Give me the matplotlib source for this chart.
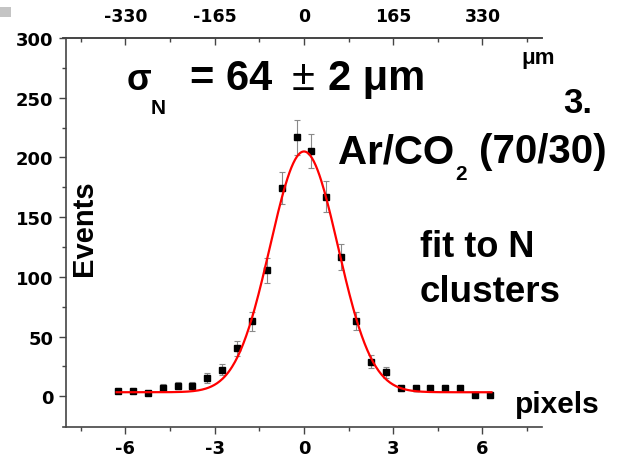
import matplotlib
matplotlib.use('Agg')
import matplotlib.pyplot as plt
import numpy as np
from matplotlib.patches import Rectangle

# measured points (pixel position, events)
pix = [-6.25, -5.75, -5.25, -4.75, -4.25, -3.75, -3.25, -2.75, -2.25, -1.75, -1.25, -0.75, -0.25,
       0.25, 0.75, 1.25, 1.75, 2.25, 2.75, 3.25, 3.75, 4.25, 4.75, 5.25, 5.75, 6.25]
events = [4.7, 4.7, 2.5, 7.2, 8.9, 8.9, 15.4, 22.4, 40.3, 62.7, 105.5, 174.2, 217.0,
          205.5, 167.2, 116.8, 63.0, 29.1, 20.2, 6.7, 6.7, 6.7, 6.7, 6.7, 1.3, 1.3]
errors = [2.2, 2.2, 1.6, 2.7, 3.0, 3.0, 3.9, 4.7, 6.3, 7.9, 10.3, 13.2, 14.7,
          14.3, 12.9, 10.8, 7.9, 5.4, 4.5, 2.6, 2.6, 2.6, 2.6, 2.6, 1.1, 1.1]

# gaussian fit result
fit_amp = 201.6
fit_mean = 0.0
fit_sigma = 1.14
fit_offset = 3.4
fit_range = [-6.3, 6.3]

um_per_pixel = 55
xticks = [-6, -3, 0, 3, 6]
yticks = [0, 50, 100, 150, 200, 250, 300]
top_ticks = [-330, -165, 0, 165, 330]

W, H = 619, 460
fig = plt.figure(figsize=(W/100, H/100), dpi=100)
ax = fig.add_axes([63/W, 1-428/H, (542-63)/W, (428-39)/H])

ax.errorbar(pix, events, yerr=errors, fmt='none', ecolor='#8a8a8a', elinewidth=0.8,
            capsize=2.5, capthick=0.8, zorder=2)
ax.plot(pix, events, 's', color='black', markersize=5, zorder=3)

xf = np.linspace(fit_range[0], fit_range[1], 400)
yf = fit_offset + fit_amp*np.exp(-(xf-fit_mean)**2/(2*fit_sigma**2))
ax.plot(xf, yf, color='red', lw=1.6, zorder=4)

ax.set_xlim(-8.1, 8.0)
ax.set_ylim(-25.7, 300)

axcol = '#444444'
for s in ['left', 'bottom', 'top']:
    ax.spines[s].set_color(axcol)
    ax.spines[s].set_linewidth(1.2)
ax.spines['right'].set_visible(False)
ax.spines['left'].set_position(('data', -8.0))

ax.set_xticks(xticks)
ax.set_xticks([-7.5, -4.5, -1.5, 1.5, 4.5, 7.5], minor=True)
ax.set_yticks(yticks)
ax.set_yticks([25, 75, 125, 175, 225, 275], minor=True)
ax.tick_params(axis='x', which='major', direction='out', length=5, width=1, color=axcol,
               pad=4, labelsize=13)
ax.tick_params(axis='x', which='minor', direction='out', length=3, width=1, color=axcol)
ax.tick_params(axis='y', which='major', direction='out', length=5, width=1, color=axcol,
               pad=4, labelsize=13)
ax.tick_params(axis='y', which='minor', direction='out', length=3, width=1, color=axcol)
ax.set_xticklabels(['-6', '-3', '0', '3', '6'])
for lab in ax.get_xticklabels() + ax.get_yticklabels():
    lab.set_fontweight('bold')
    lab.set_family('DejaVu Sans')

top = ax.secondary_xaxis('top', functions=(lambda v: v*um_per_pixel, lambda v: v/um_per_pixel))
top.spines['top'].set_color(axcol)
top.spines['top'].set_linewidth(1.2)
top.set_xticks(top_ticks)
top.set_xticks([-412.5, -247.5, -82.5, 82.5, 247.5, 412.5], minor=True)
top.set_xticklabels(['-330', '-165', '0', '165', '330'], fontweight='bold', family='DejaVu Sans')
top.tick_params(axis='x', which='major', direction='in', length=5, width=1, color=axcol,
                pad=9, labelsize=12.5)
top.tick_params(axis='x', which='minor', direction='in', length=3, width=1, color=axcol)

def ftext(x, y, s, **kw):
    kw.setdefault('family', 'Liberation Sans')
    kw.setdefault('va', 'baseline')
    fig.text(x/W, 1-y/H, s, **kw)

ftext(127, 90, 'σ', fontsize=26, fontweight='bold')
ftext(151, 114, 'N', fontsize=15, fontweight='bold')
ftext(190, 90, '= 64', fontsize=30, fontweight='bold')
ftext(292, 90, '±', fontsize=30)
ftext(328, 90, '2 μm', fontsize=30, fontweight='bold')
ftext(563, 113, '3.', fontsize=25, fontweight='bold')
ftext(521, 64, 'μm', fontsize=16, fontweight='bold')
ftext(338, 163, 'Ar/CO', fontsize=29, fontweight='bold')
ftext(455, 180, '2', fontsize=15, fontweight='bold')
ftext(479, 163, '(70/30)', fontsize=29, fontweight='bold')
ftext(420, 257, 'fit to N', fontsize=26, fontweight='bold')
ftext(420, 302, 'clusters', fontsize=26.5, fontweight='bold')
ftext(98, 228, 'Events', fontsize=21, fontweight='bold', rotation=90, va='center', ha='right')
ftext(515, 413, 'pixels', fontsize=21.5, fontweight='bold')

fig.patches.append(Rectangle((0, 1-18/H), 11/W, 10/H, transform=fig.transFigure,
                             facecolor='#c4c4c4', edgecolor='none'))

fig.savefig('out.png', dpi=100)
